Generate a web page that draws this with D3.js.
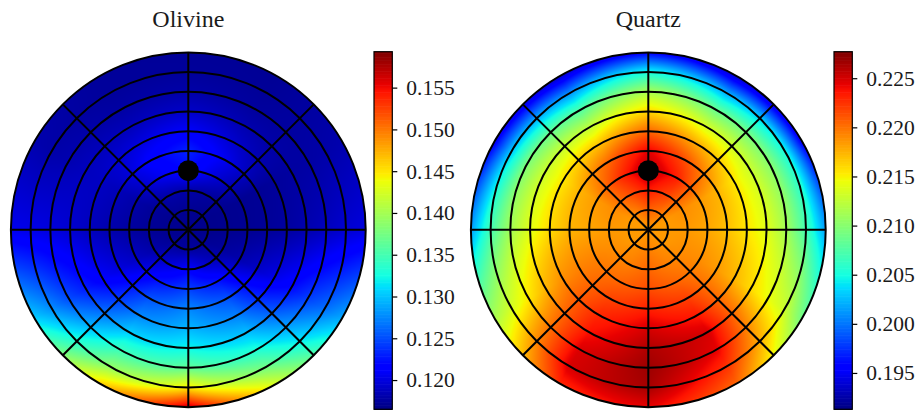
<!DOCTYPE html>
<html>
<head>
<meta charset="utf-8">
<script src="https://cdn.jsdelivr.net/npm/d3@7"></script>
<style>
  html, body { margin: 0; padding: 0; background: #fff; }
  svg { display: block; }
  .title { font-family: "Liberation Serif", "DejaVu Serif", serif; font-size: 24px; fill: #1a1a1a; }
  .cbar text { font-family: "Liberation Serif", "DejaVu Serif", serif; font-size: 21.5px; fill: #1a1a1a; }
</style>
</head>
<body>
<svg id="chart" width="919" height="414"></svg>
<script>
// Polar grid: polar angle (degrees from the pole) and azimuth (degrees clockwise from up)
const thetaLevels = [0, 10, 20, 30, 40, 50, 60, 70, 80, 90];
const azimuthLevels = [0, 30, 60, 90, 120, 150, 180, 210, 240, 270, 300, 330];

// Olivine values: pole value, then one row per azimuth for theta = 10..90
const olivineCenter = 0.1170;
const olivineRows = [
  [0.1172, 0.1180, 0.1222, 0.1232, 0.1212, 0.1192, 0.1180, 0.1175, 0.1174], // 0
  [0.1171, 0.1176, 0.1195, 0.1205, 0.1192, 0.1182, 0.1176, 0.1174, 0.1173], // 30
  [0.1170, 0.1171, 0.1172, 0.1173, 0.1175, 0.1177, 0.1178, 0.1180, 0.1182], // 60
  [0.1170, 0.1171, 0.1172, 0.1174, 0.1177, 0.1182, 0.1188, 0.1195, 0.1200], // 90
  [0.1172, 0.1176, 0.1182, 0.1192, 0.1205, 0.1222, 0.1245, 0.1265, 0.1290], // 120
  [0.1175, 0.1192, 0.1225, 0.1252, 0.1272, 0.1298, 0.1330, 0.1372, 0.1425], // 150
  [0.1176, 0.1215, 0.1245, 0.1275, 0.1295, 0.1322, 0.1365, 0.1448, 0.1570], // 180
  [0.1175, 0.1198, 0.1225, 0.1252, 0.1275, 0.1305, 0.1345, 0.1390, 0.1460], // 210
  [0.1173, 0.1180, 0.1190, 0.1200, 0.1212, 0.1230, 0.1250, 0.1278, 0.1305], // 240
  [0.1171, 0.1173, 0.1177, 0.1182, 0.1188, 0.1195, 0.1200, 0.1203, 0.1205], // 270
  [0.1171, 0.1174, 0.1180, 0.1186, 0.1190, 0.1188, 0.1183, 0.1180, 0.1182], // 300
  [0.1172, 0.1180, 0.1205, 0.1215, 0.1200, 0.1186, 0.1178, 0.1175, 0.1175]  // 330
];
const olivineRange = [0.1165, 0.1593];
const olivineTicks = [0.120, 0.125, 0.130, 0.135, 0.140, 0.145, 0.150, 0.155];

// Quartz values
const quartzCenter = 0.2185;
const quartzRows = [
  [0.2208, 0.2235, 0.2262, 0.2245, 0.2205, 0.2162, 0.2115, 0.2050, 0.1955], // 0
  [0.2200, 0.2218, 0.2232, 0.2212, 0.2178, 0.2135, 0.2085, 0.2020, 0.1935], // 30
  [0.2185, 0.2190, 0.2185, 0.2175, 0.2155, 0.2130, 0.2100, 0.2050, 0.1950], // 60
  [0.2185, 0.2185, 0.2180, 0.2170, 0.2155, 0.2140, 0.2112, 0.2070, 0.2015], // 90
  [0.2185, 0.2190, 0.2190, 0.2185, 0.2175, 0.2160, 0.2145, 0.2130, 0.2090], // 120
  [0.2190, 0.2195, 0.2205, 0.2220, 0.2235, 0.2250, 0.2245, 0.2225, 0.2205], // 150
  [0.2195, 0.2205, 0.2215, 0.2232, 0.2250, 0.2262, 0.2268, 0.2265, 0.2245], // 180
  [0.2190, 0.2195, 0.2205, 0.2218, 0.2230, 0.2238, 0.2248, 0.2250, 0.2230], // 210
  [0.2185, 0.2190, 0.2195, 0.2195, 0.2190, 0.2175, 0.2155, 0.2135, 0.2115], // 240
  [0.2185, 0.2185, 0.2180, 0.2175, 0.2160, 0.2140, 0.2112, 0.2070, 0.2015], // 270
  [0.2185, 0.2190, 0.2185, 0.2175, 0.2155, 0.2130, 0.2095, 0.2030, 0.1950], // 300
  [0.2195, 0.2212, 0.2225, 0.2205, 0.2170, 0.2125, 0.2075, 0.2010, 0.1935]  // 330
];
const quartzRange = [0.1913, 0.2277];
const quartzTicks = [0.195, 0.200, 0.205, 0.210, 0.215, 0.220, 0.225];

// Marked pole direction
const markerTheta = 30;
const markerAzimuth = 0;

// Grid line directions and ring spacing
const ringThetas = [10, 20, 30, 40, 50, 60, 70, 80, 90];
const spokeAzimuths = [0, 45, 90, 135, 180, 225, 270, 315];

// Matplotlib "jet" colormap, piecewise-linear per channel
const jetR = d3.scaleLinear().domain([0, 0.35, 0.66, 0.89, 1]).range([0, 0, 1, 1, 0.5]).clamp(true);
const jetG = d3.scaleLinear().domain([0, 0.125, 0.375, 0.64, 0.91, 1]).range([0, 0, 1, 1, 0, 0]).clamp(true);
const jetB = d3.scaleLinear().domain([0, 0.11, 0.34, 0.65, 1]).range([0.5, 1, 1, 0, 0]).clamp(true);
function jet(t) {
  return [Math.round(255 * jetR(t)), Math.round(255 * jetG(t)), Math.round(255 * jetB(t))];
}

const svg = d3.select("#chart");

const panels = [
  { title: "Olivine", center: olivineCenter, rows: olivineRows, range: olivineRange, ticks: olivineTicks,
    cx: 188.3, cy: 229.8, R: 177.4, barX: 374, titleY: 27 },
  { title: "Quartz", center: quartzCenter, rows: quartzRows, range: quartzRange, ticks: quartzTicks,
    cx: 648.3, cy: 229.8, R: 177.4, barX: 834, titleY: 27 }
];
const barTop = 51.7, barBottom = 409.3, barWidth = 18.3;

function fieldValue(p, theta, az) {
  const nT = thetaLevels.length, nA = azimuthLevels.length;
  const tStep = thetaLevels[1] - thetaLevels[0];
  const aStep = azimuthLevels[1] - azimuthLevels[0];
  const ti = Math.min(Math.max(theta, 0), thetaLevels[nT - 1]) / tStep;
  const i0 = Math.min(Math.floor(ti), nT - 2);
  const ft = ti - i0;
  const aj = az / aStep;
  const j0 = ((Math.floor(aj) % nA) + nA) % nA;
  const j1 = (j0 + 1) % nA;
  const fa = aj - Math.floor(aj);
  const v = (i, j) => i === 0 ? p.center : p.rows[j][i - 1];
  const a = v(i0, j0) * (1 - fa) + v(i0, j1) * fa;
  const b = v(i0 + 1, j0) * (1 - fa) + v(i0 + 1, j1) * fa;
  return a * (1 - ft) + b * ft;
}

panels.forEach((p, k) => {
  const color = d3.scaleLinear().domain(p.range).range([0, 1]).clamp(true);
  const rScale = d3.scaleLinear().domain([0, 90]).range([0, p.R]);

  // Heatmap raster
  const pad = 3;
  const x0 = Math.floor(p.cx - p.R - pad), y0 = Math.floor(p.cy - p.R - pad);
  const size = Math.ceil(2 * p.R + 2 * pad);
  const canvas = document.createElement("canvas");
  canvas.width = size; canvas.height = size;
  const ctx = canvas.getContext("2d");
  const img = ctx.createImageData(size, size);
  for (let py = 0; py < size; py++) {
    for (let px = 0; px < size; px++) {
      const dx = x0 + px + 0.5 - p.cx;
      const dy = y0 + py + 0.5 - p.cy;
      const theta = rScale.invert(Math.hypot(dx, dy));
      let az = Math.atan2(dx, -dy) * 180 / Math.PI;
      if (az < 0) az += 360;
      const c = jet(color(fieldValue(p, theta, az)));
      const o = 4 * (py * size + px);
      img.data[o] = c[0]; img.data[o + 1] = c[1]; img.data[o + 2] = c[2]; img.data[o + 3] = 255;
    }
  }
  ctx.putImageData(img, 0, 0);

  const clipId = "disc" + k;
  svg.append("clipPath").attr("id", clipId)
    .append("circle").attr("cx", p.cx).attr("cy", p.cy).attr("r", p.R);

  const g = svg.append("g");
  g.append("image")
    .attr("x", x0).attr("y", y0).attr("width", size).attr("height", size)
    .attr("href", canvas.toDataURL())
    .attr("clip-path", `url(#${clipId})`);

  // Rings
  g.selectAll("circle.ring").data(ringThetas).join("circle")
    .attr("class", "ring")
    .attr("cx", p.cx).attr("cy", p.cy)
    .attr("r", d => rScale(d))
    .attr("fill", "none").attr("stroke", "#000").attr("stroke-width", 2);

  // Spokes
  g.selectAll("line.spoke").data(spokeAzimuths).join("line")
    .attr("class", "spoke")
    .attr("x1", p.cx).attr("y1", p.cy)
    .attr("x2", d => p.cx + rScale(90) * Math.sin(d * Math.PI / 180))
    .attr("y2", d => p.cy - rScale(90) * Math.cos(d * Math.PI / 180))
    .attr("stroke", "#000").attr("stroke-width", 2);

  // Pole marker
  g.append("circle")
    .attr("cx", p.cx + rScale(markerTheta) * Math.sin(markerAzimuth * Math.PI / 180))
    .attr("cy", p.cy - rScale(markerTheta) * Math.cos(markerAzimuth * Math.PI / 180))
    .attr("r", 10.5).attr("fill", "#000");

  // Title
  svg.append("text").attr("class", "title")
    .attr("x", p.cx).attr("y", p.titleY)
    .attr("text-anchor", "middle")
    .text(p.title);

  // Colorbar
  const cb = svg.append("g").attr("class", "cbar");
  const yBar = d3.scaleLinear().domain(p.range).range([barBottom, barTop]);
  const steps = 256;
  const stepVals = d3.range(steps).map(i => p.range[0] + (p.range[1] - p.range[0]) * i / steps);
  const dv = (p.range[1] - p.range[0]) / steps;
  cb.selectAll("rect.seg").data(stepVals).join("rect")
    .attr("class", "seg")
    .attr("x", p.barX).attr("width", barWidth)
    .attr("y", d => yBar(d + dv))
    .attr("height", d => yBar(d) - yBar(d + dv) + 0.6)
    .attr("fill", d => { const c = jet(color(d + dv / 2)); return `rgb(${c[0]},${c[1]},${c[2]})`; });
  cb.append("rect")
    .attr("x", p.barX).attr("y", barTop).attr("width", barWidth).attr("height", barBottom - barTop)
    .attr("fill", "none").attr("stroke", "#000").attr("stroke-width", 1.2);

  const axis = d3.axisRight(yBar).tickValues(p.ticks).tickFormat(d3.format(".3f"))
    .tickSize(5).tickPadding(9);
  const ax = cb.append("g").attr("transform", `translate(${p.barX + barWidth},0)`).call(axis);
  ax.select(".domain").remove();
  ax.selectAll(".tick line").attr("stroke", "#000").attr("stroke-width", 1.2);
  ax.selectAll(".tick text").attr("fill", "#1a1a1a");
});
</script>
</body>
</html>
